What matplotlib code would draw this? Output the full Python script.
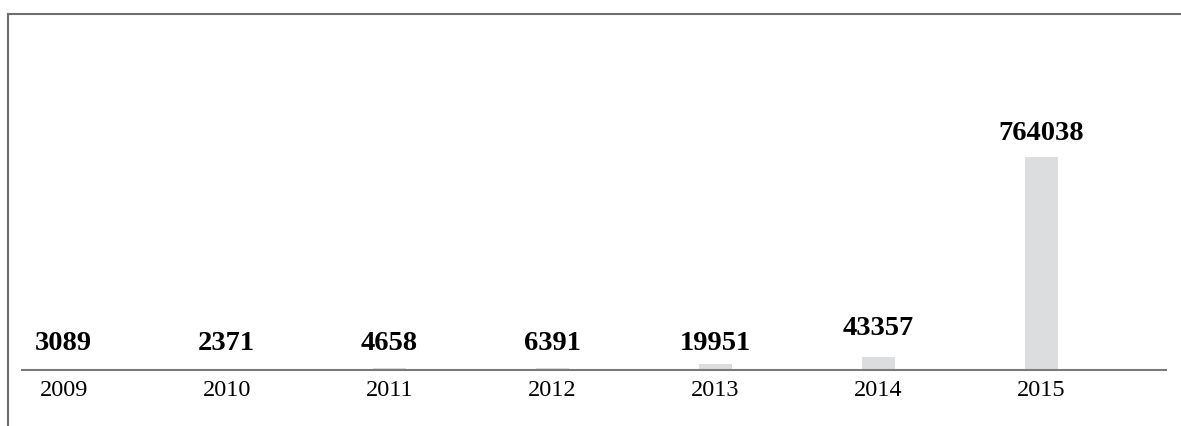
import matplotlib
matplotlib.use("Agg")
import matplotlib.pyplot as plt
from matplotlib.lines import Line2D
import numpy as np

years = ["2009", "2010", "2011", "2012", "2013", "2014", "2015"]
values = [3089, 2371, 4658, 6391, 19951, 43357, 764038]

W, H = 1181, 427
fig = plt.figure(figsize=(W / 100, H / 100), dpi=100)
ax = fig.add_axes([22 / W, (H - 370.5) / H, (1166 - 22) / W, (370.5 - 14) / H])

x = np.arange(len(years))
ax.bar(x, values, width=0.2025, color="#dcdddf", zorder=1)

ax.set_xlim(-0.255, -0.255 + 1144 / 163)
ax.set_ylim(0, max(values) * 356.5 / 212.5)

# labels: baseline sits above bar top, but not lower than a floor above the axis
ppd = 212.5 / max(values)  # pixels per data unit
gaps = [14, 14, 14, 14, 14, 23.5, 17.5]
for xi, v, g in zip(x, values, gaps):
    top_px = v * ppd
    base_px = max(top_px + g, 20.5)
    ax.annotate(str(v), xy=(xi, 0), xytext=(0, base_px * 72 / 100),
                textcoords="offset points", ha="center", va="baseline",
                fontsize=20.5, fontweight="bold", family="Liberation Serif",
                color="#000000")

ax.set_xticks(x)
ax.set_xticklabels(years, fontsize=17.5, family="Liberation Serif", color="#000000")
ax.tick_params(axis="x", length=0, pad=7)
ax.set_yticks([])
for s in ["top", "right", "left"]:
    ax.spines[s].set_visible(False)
ax.spines["bottom"].set_color("#7a7a7a")
ax.spines["bottom"].set_linewidth(1.5)

# outer frame lines (top and left)
fig.add_artist(Line2D([8 / W, 1], [1 - 14.5 / H, 1 - 14.5 / H], transform=fig.transFigure,
                      color="#6e6e6e", linewidth=1.5))
fig.add_artist(Line2D([8 / W, 8 / W], [0, 1 - 14.5 / H], transform=fig.transFigure,
                      color="#6e6e6e", linewidth=1.5))

fig.savefig("out.png", dpi=100)
